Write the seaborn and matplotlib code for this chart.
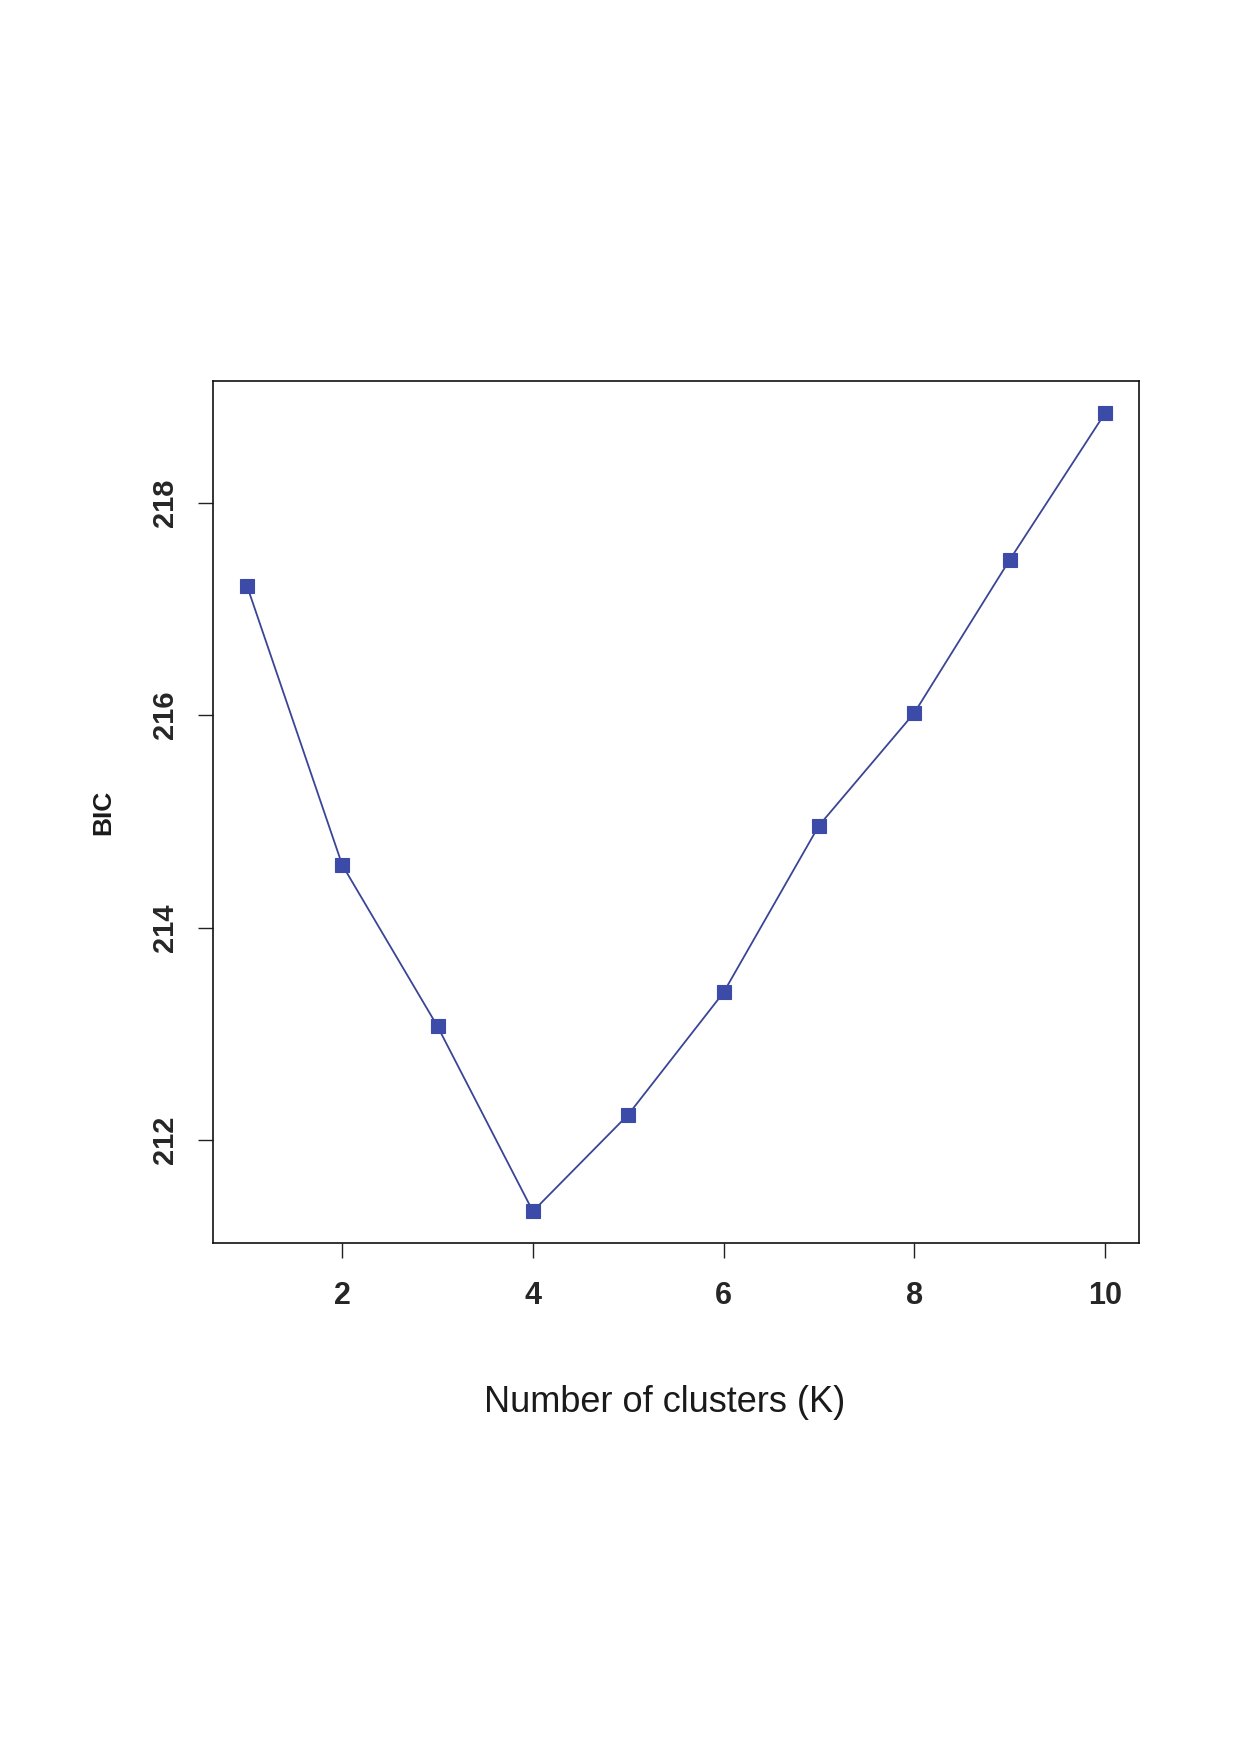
import numpy as np
import pandas as pd
import matplotlib
matplotlib.use("Agg")
import matplotlib.pyplot as plt
import seaborn as sns

# BIC values
k_values = [1, 2, 3, 4, 5, 6, 7, 8, 9, 10]
bic_values = [217.22, 214.59, 213.07, 211.33, 212.24, 213.39, 214.96, 216.02, 217.46, 218.84]
x_ticks = [2, 4, 6, 8, 10]
y_ticks = [212, 214, 216, 218]

df = pd.DataFrame({"K": k_values, "BIC": bic_values})

sns.set_style("ticks")
plt.rcParams['font.family'] = ['Liberation Sans', 'DejaVu Sans']

fig = plt.figure(figsize=(12.41, 17.54), dpi=100)
ax = fig.add_axes([0.1713, 0.2912, 0.918 - 0.1713, 0.7825 - 0.2912])

line_col = "#3a4596"
sns.lineplot(data=df, x="K", y="BIC", ax=ax, color=line_col, linewidth=1.3,
             marker="s", markersize=10, markerfacecolor="#3c4aa8",
             markeredgecolor="#3c4aa8", markeredgewidth=0.8)

# R-style 4% padding
xr = max(k_values) - min(k_values)
yr = max(bic_values) - min(bic_values)
ax.set_xlim(min(k_values) - 0.04 * xr, max(k_values) + 0.04 * xr)
ax.set_ylim(min(bic_values) - 0.04 * yr, max(bic_values) + 0.04 * yr)

ax.set_xticks(x_ticks)
ax.set_yticks(y_ticks)
ax.set_xticklabels([str(t) for t in x_ticks], fontsize=22, fontweight="bold")
ax.set_yticklabels([str(t) for t in y_ticks], fontsize=21, fontweight="bold",
                   rotation=90, va="center")
ax.tick_params(axis="x", length=11, width=1.0, color="#222222", pad=16)
ax.tick_params(axis="y", length=11, width=1.0, color="#222222", pad=13)

for s in ax.spines.values():
    s.set_visible(True)
    s.set_linewidth(1.2)
    s.set_color("#111111")

ax.set_xlabel("Number of clusters (K)", fontsize=26, labelpad=56, color="#1a1a1a")
ax.xaxis.set_label_coords(0.488, -0.165)
ax.set_ylabel("BIC", fontsize=19, fontweight="bold", labelpad=26, color="#1a1a1a")

fig.savefig("out.png", dpi=100, facecolor="white")
